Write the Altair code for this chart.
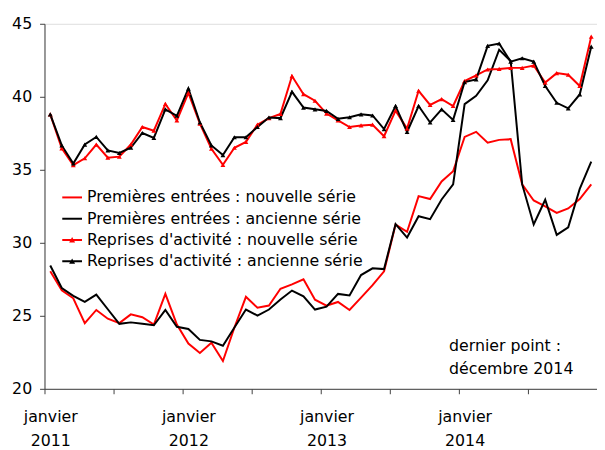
import altair as alt
import pandas as pd

# ---- data (monthly, janvier 2011 .. décembre 2014) ----
months = list(range(48))
series_names = [
    "Premières entrées : nouvelle série",
    "Premières entrées : ancienne série",
    "Reprises d'activité : nouvelle série",
    "Reprises d'activité : ancienne série",
]
series_colors = ["#ff0000", "#000000", "#ff0000", "#000000"]
with_markers = [False, False, True, True]

premieres_nouvelle = [
    28.05, 26.75, 26.2, 24.5, 25.4, 24.8, 24.5, 25.1, 24.9, 24.4, 26.5, 24.4,
    23.1, 22.45, 23.15, 21.9, 24.2, 26.3, 25.55, 25.7, 26.85, 27.15, 27.5, 26.1,
    25.7, 25.95, 25.4, 26.25, 27.1, 28.05, 31.25, 30.75, 33.2, 33.0, 34.2, 34.9,
    37.25, 37.6, 36.85, 37.05, 37.1, 34.0, 32.9, 32.5, 32.05, 32.35, 33.0, 34.0,
]
premieres_ancienne = [
    28.45, 26.9, 26.37, 25.95, 26.45, 25.45, 24.45, 24.55, 24.45, 24.35, 25.4, 24.25,
    24.1, 23.35, 23.25, 22.95, 24.2, 25.43, 25.02, 25.43, 26.12, 26.73, 26.33, 25.43,
    25.63, 26.5, 26.39, 27.79, 28.25, 28.2, 31.28, 30.36, 31.82, 31.62, 32.97, 34.0,
    39.5, 40.07, 41.13, 43.22, 42.45, 34.0, 31.26, 32.95, 30.54, 31.06, 33.69, 35.56,
]
reprises_nouvelle = [
    38.8, 36.47, 35.32, 35.79, 36.73, 35.83, 35.9, 36.73, 37.93, 37.68, 39.51, 38.38,
    40.27, 38.16, 36.44, 35.34, 36.51, 36.91, 38.09, 38.54, 38.83, 41.42, 40.18, 39.73,
    38.85, 38.38, 37.93, 38.04, 38.09, 37.3, 39.05, 37.82, 40.41, 39.44, 39.84, 39.37,
    41.08, 41.47, 41.87, 41.91, 41.98, 41.98, 42.14, 40.97, 41.62, 41.51, 40.74, 44.12,
]
reprises_ancienne = [
    38.8, 36.67, 35.43, 36.73, 37.25, 36.33, 36.15, 36.51, 37.52, 37.18, 39.14, 38.7,
    40.56, 38.24, 36.67, 36.01, 37.23, 37.23, 37.93, 38.58, 38.54, 40.34, 39.26, 39.14,
    39.03, 38.49, 38.6, 38.8, 38.72, 37.79, 39.37, 37.59, 39.37, 38.24, 39.14, 38.42,
    41.01, 41.19, 43.49, 43.65, 42.41, 42.64, 42.41, 40.74, 39.59, 39.21, 40.16, 43.43,
]
all_values = [premieres_nouvelle, premieres_ancienne, reprises_nouvelle, reprises_ancienne]

x_tick_values = [-0.5, 5.5, 11.5, 17.5, 23.5, 29.5, 35.5, 41.5]
x_label_values = [-0.5, 11.5, 23.5, 35.5]
x_label_years = ["2011", "2012", "2013", "2014"]
y_ticks = [20, 25, 30, 35, 40, 45]
note_lines = ["dernier point :", "décembre 2014"]

FONT = "DejaVu Sans"

rows = []
for name, col, mk, vals in zip(series_names, series_colors, with_markers, all_values):
    for m, v in zip(months, vals):
        rows.append({"m": m, "value": v, "series": name, "colour": col, "marker": mk})
df = pd.DataFrame(rows)

label_expr = "".join(
    f"datum.value == {v} ? ['janvier', '{y}'] : " for v, y in zip(x_label_values, x_label_years)
) + "''"

x_enc = alt.X(
    "m:Q",
    scale=alt.Scale(domain=[-0.5, 47.5], nice=False, zero=False),
    axis=alt.Axis(
        title=None, values=x_tick_values, labelExpr=label_expr, labelOffset=5.83,
        labelFlush=False, labelOverlap=False, labelBound=False, grid=False,
        tickSize=5, labelPadding=15, labelFontSize=16, labelFont=FONT,
        labelColor="#000000", labelLineHeight=24, domainColor="#404040",
        tickColor="#404040", labelAlign="center",
    ),
)
y_enc = alt.Y(
    "value:Q",
    scale=alt.Scale(domain=[20, 45], nice=False, zero=False),
    axis=alt.Axis(
        title=None, values=y_ticks, grid=False, tickSize=5, labelPadding=8,
        labelFontSize=16, labelFont=FONT, labelColor="#000000",
        domainColor="#404040", tickColor="#404040",
    ),
)

base = alt.Chart(df)

lines = base.mark_line(strokeWidth=2).encode(
    x=x_enc, y=y_enc,
    color=alt.Color("colour:N", scale=None),
    detail="series:N",
    order="m:Q",
)

tri = base.transform_filter("datum.marker").mark_point(
    shape="triangle-up", filled=True, size=24, opacity=1
).encode(x=x_enc, y=y_enc, color=alt.Color("colour:N", scale=None), detail="series:N")

line_path = "M-1,-0.1H1V0.1H-1Z"
tri_path = "M-1,-0.1H1V0.1H-1Z M-0.3,0.24L0,-0.3L0.3,0.24Z"
shape_range = [tri_path if mk else line_path for mk in with_markers]

legend_props = dict(
    title=None, orient="none", legendX=18, legendY=166, padding=0,
    symbolSize=400, symbolStrokeWidth=0, rowPadding=3.6, labelOffset=5,
    labelFontSize=16, labelFont=FONT, labelColor="#000000", labelLimit=400,
    symbolOpacity=1,
)

legend_layer = base.transform_filter("false").mark_point(filled=True, opacity=1).encode(
    x=x_enc, y=y_enc,
    color=alt.Color(
        "series:N",
        scale=alt.Scale(domain=series_names, range=series_colors),
        legend=alt.Legend(**legend_props),
    ),
    shape=alt.Shape(
        "series:N",
        scale=alt.Scale(domain=series_names, range=shape_range),
        legend=alt.Legend(**legend_props),
    ),
)

note = alt.Chart(pd.DataFrame({"a": [0]})).mark_text(
    text=note_lines, align="left", baseline="middle", fontSize=16, font=FONT,
    color="#000000", lineHeight=23,
).encode(x=alt.value(410), y=alt.value(327))

chart = alt.layer(lines, tri, legend_layer, note).properties(
    width=560, height=370,
    autosize=alt.AutoSizeParams(type="none"),
    padding={"left": 37, "top": 13, "right": 0, "bottom": 58},
).configure_view(stroke="#b0b0b0", strokeWidth=1.5).configure(background="#ffffff")

chart.save("out.html", embed_options={"renderer": "svg", "actions": False})
